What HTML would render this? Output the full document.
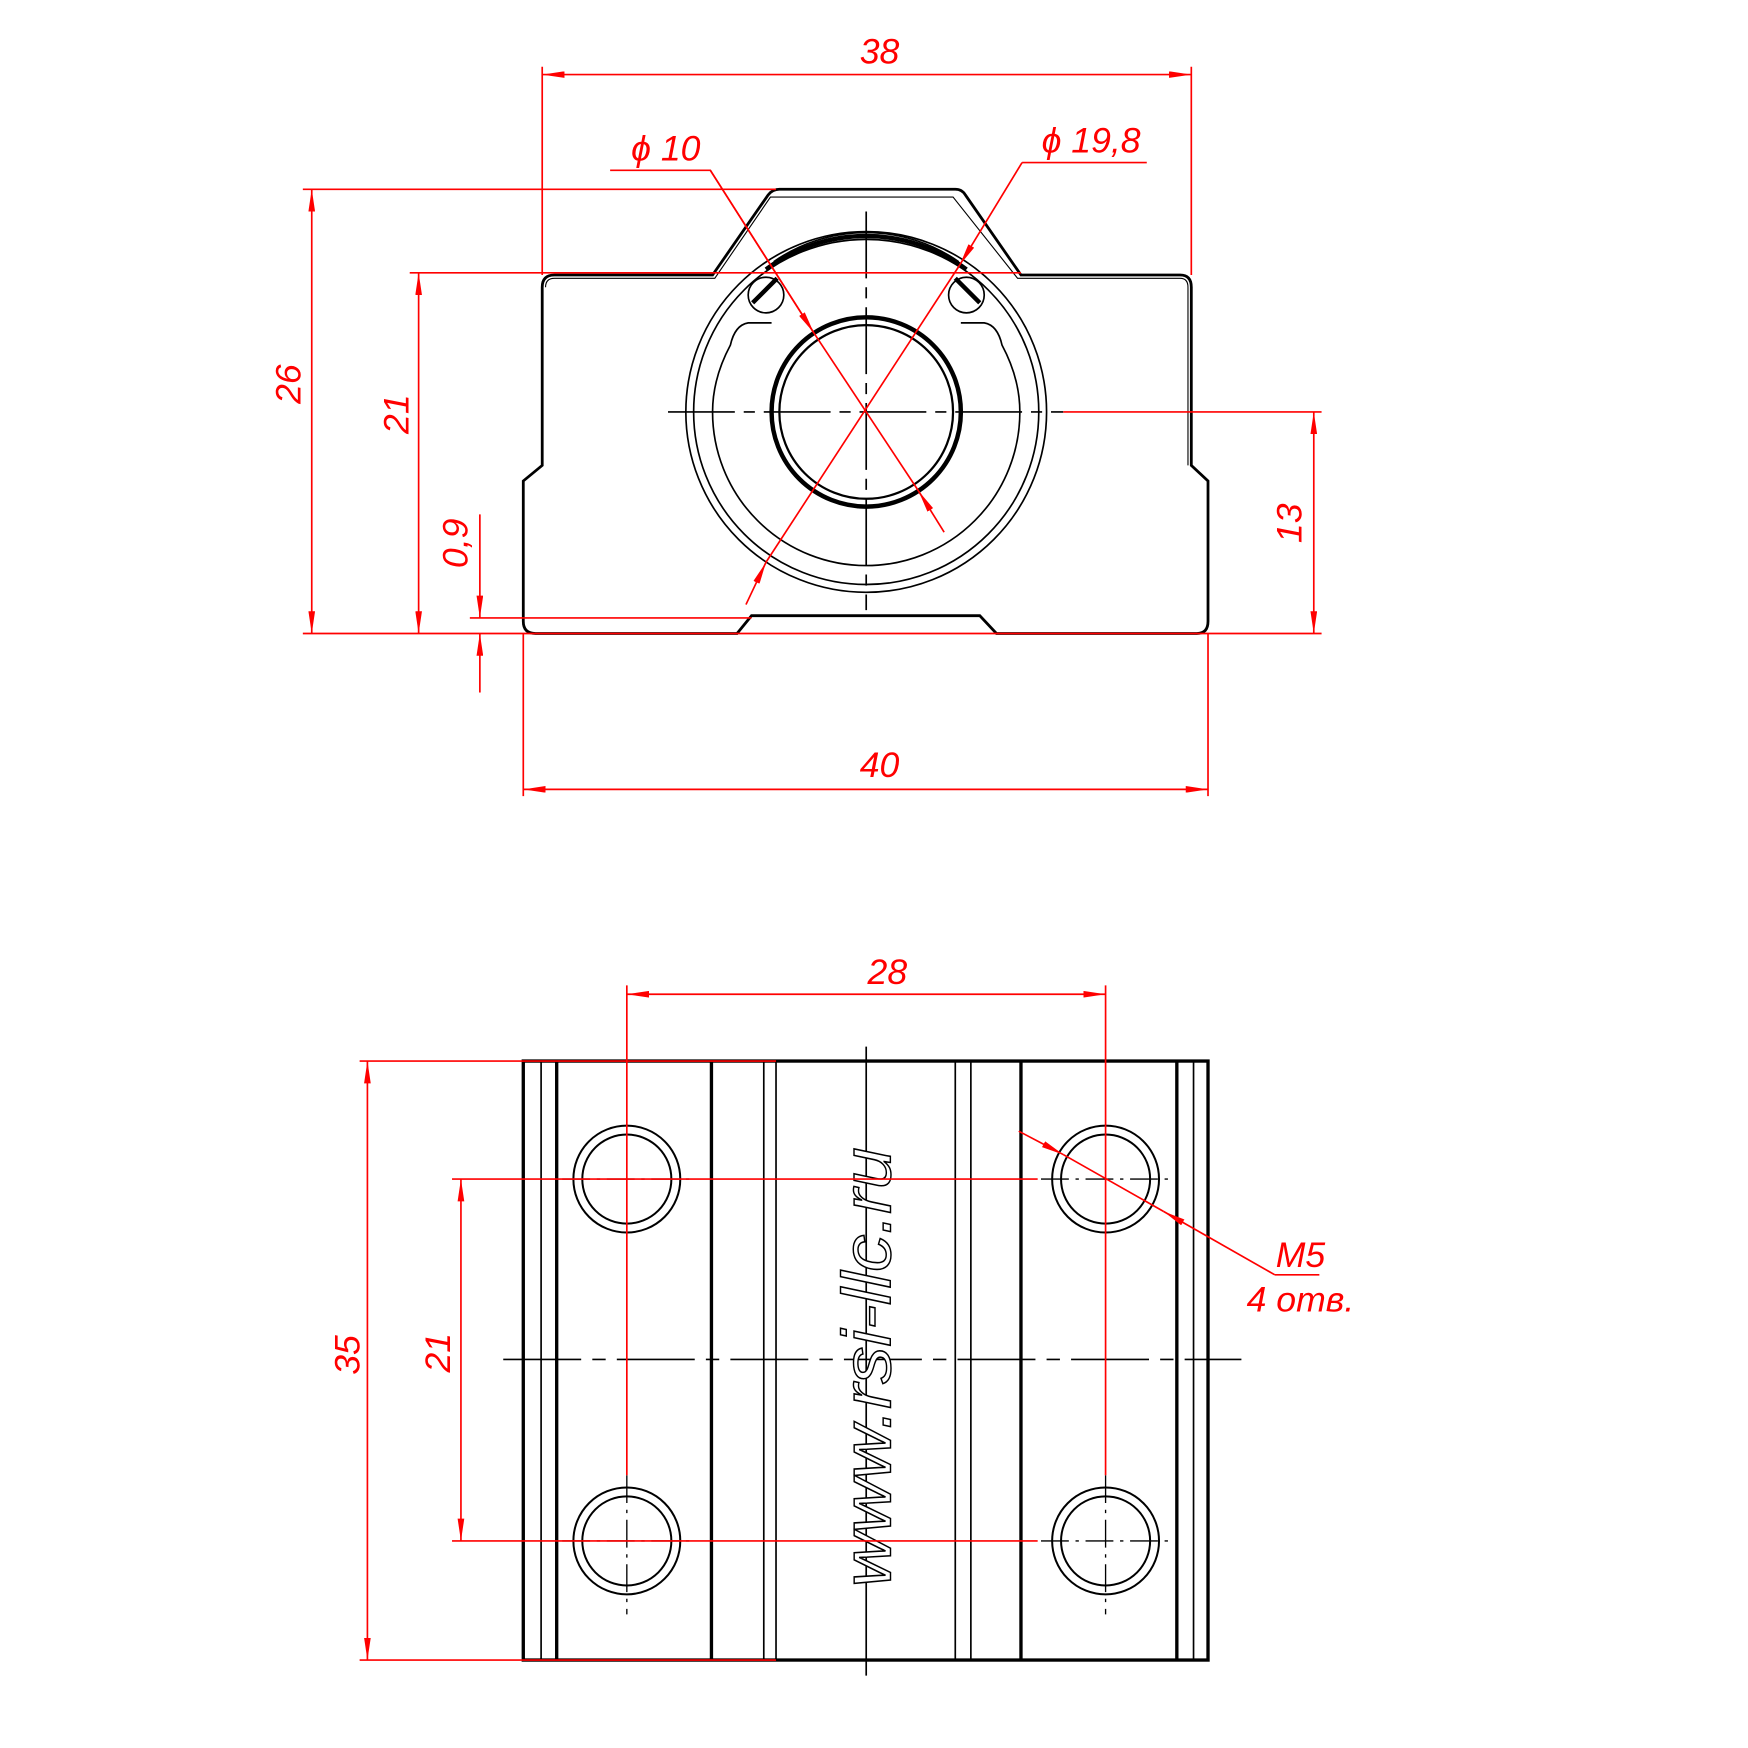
<!DOCTYPE html>
<html><head><meta charset="utf-8"><style>html,body{margin:0;padding:0;background:#fff}svg{display:block}</style></head>
<body>
<svg width="1748" height="1748" viewBox="0 0 1570 1570" xmlns="http://www.w3.org/2000/svg">
<defs>
<marker id="a" viewBox="0 0 20 6" refX="20" refY="3" markerWidth="20" markerHeight="6" markerUnits="userSpaceOnUse" orient="auto-start-reverse"><path d="M0,0 L20,3 L0,6 Z" fill="red"/></marker>
</defs>
<g fill="none" stroke="#000">
<!-- top view body -->
<path d="M487,258 Q487,247 498,247 L640,247 L690,175 Q694,170 700,170 L858,170 Q864,170 867,175 L917,247 L1060,247 Q1070,247 1070,258 L1070,418 L1085,432 L1085,558 Q1085,569 1075,569 L895,569 L880,553 L675,553 L662,569 L481,569 Q470,569 470,558 L470,432 L487,418 Z" stroke-width="2.5"/>
<path d="M490,258 Q490,250 498,250 L642,250 L692,177 L856,177 L914,250 L1060,250 Q1067,250 1067,258 L1067,418" stroke-width="1"/>
<circle cx="778" cy="370" r="162" stroke-width="1.5"/>
<circle cx="778" cy="370" r="155" stroke-width="1.5"/>
<path d="M693,290 L672,290 Q660,292 656,310 Q640,340 640,370 A138,138 0 0 0 916,370 Q916,340 900,310 Q896,292 884,290 L863,290" stroke-width="1.5"/>
<path d="M688,242 A150,150 0 0 1 868,242" stroke-width="4"/>
<path d="M695,235 A145,145 0 0 1 861,235" stroke-width="1.5"/>
<circle cx="688" cy="265" r="16" stroke-width="1.5"/><circle cx="868" cy="265" r="16" stroke-width="1.5"/>
<line x1="676" y1="272" x2="698" y2="250" stroke-width="4"/><line x1="880" y1="272" x2="858" y2="250" stroke-width="4"/>
<circle cx="778" cy="370" r="85" stroke-width="4"/>
<circle cx="778" cy="370" r="78" stroke-width="2"/>
<line x1="600" y1="370" x2="955" y2="370" stroke-width="1.5" stroke-dasharray="60,8,10,8"/>
<line x1="778" y1="190" x2="778" y2="548" stroke-width="1.5" stroke-dasharray="60,8,10,8"/>
<!-- bottom view -->
<rect x="470" y="953" width="615" height="538" stroke-width="3"/>
<g stroke-width="1.5">
<line x1="486" y1="953" x2="486" y2="1491"/><line x1="686" y1="953" x2="686" y2="1491"/><line x1="697" y1="953" x2="697" y2="1491"/>
<line x1="858" y1="953" x2="858" y2="1491"/><line x1="872" y1="953" x2="872" y2="1491"/><line x1="1072" y1="953" x2="1072" y2="1491"/>
</g>
<g stroke-width="3">
<line x1="500" y1="953" x2="500" y2="1491"/><line x1="639" y1="953" x2="639" y2="1491"/><line x1="917" y1="953" x2="917" y2="1491"/><line x1="1057" y1="953" x2="1057" y2="1491"/>
</g>
<g stroke-width="1.8">
<circle cx="563" cy="1059" r="48"/><circle cx="563" cy="1059" r="40"/>
<circle cx="993" cy="1059" r="48"/><circle cx="993" cy="1059" r="40"/>
<circle cx="563" cy="1384" r="48"/><circle cx="563" cy="1384" r="40"/>
<circle cx="993" cy="1384" r="48"/><circle cx="993" cy="1384" r="40"/>
</g>
<g stroke-width="1.2" stroke-dasharray="25,6,3,6">
<line x1="505" y1="1059" x2="621" y2="1059"/><line x1="935" y1="1059" x2="1051" y2="1059"/>
<line x1="505" y1="1384" x2="621" y2="1384"/><line x1="935" y1="1384" x2="1051" y2="1384"/>
<line x1="563" y1="1325" x2="563" y2="1450"/><line x1="993" y1="1325" x2="993" y2="1450"/>
</g>
<line x1="452" y1="1221" x2="1115" y2="1221" stroke-width="1.5" stroke-dasharray="70,10,12,10"/>
<line x1="778" y1="940" x2="778" y2="1505" stroke-width="1.5"/>
</g>
<text x="0" y="0" transform="translate(800,1228) rotate(-90)" text-anchor="middle" font-family="Liberation Sans Narrow, Liberation Sans, sans-serif" font-style="italic" font-size="62" fill="#fff" stroke="#000" stroke-width="1.3" textLength="395" lengthAdjust="spacingAndGlyphs">www.rsi-llc.ru</text>

<g stroke="red" stroke-width="1.5" fill="none">
<!-- 38 -->
<line x1="487" y1="60" x2="487" y2="247"/><line x1="1070" y1="60" x2="1070" y2="247"/>
<line x1="487" y1="67" x2="1070" y2="67" marker-start="url(#a)" marker-end="url(#a)"/>
<!-- 26 -->
<line x1="272" y1="170" x2="697" y2="170"/><line x1="272" y1="569" x2="1187" y2="569"/>
<line x1="280" y1="170" x2="280" y2="569" marker-start="url(#a)" marker-end="url(#a)"/>
<!-- 21 -->
<line x1="368" y1="245" x2="917" y2="245"/>
<line x1="376" y1="245" x2="376" y2="569" marker-start="url(#a)" marker-end="url(#a)"/>
<!-- 0,9 -->
<line x1="422" y1="555" x2="675" y2="555"/>
<line x1="431" y1="462" x2="431" y2="555" marker-end="url(#a)"/>
<line x1="431" y1="622" x2="431" y2="569" marker-end="url(#a)"/>
<!-- 13 -->
<line x1="955" y1="370" x2="1187" y2="370"/>
<line x1="1180" y1="370" x2="1180" y2="569" marker-start="url(#a)" marker-end="url(#a)"/>
<!-- 40 -->
<line x1="470" y1="569" x2="470" y2="715"/><line x1="1085" y1="569" x2="1085" y2="715"/>
<line x1="470" y1="709" x2="1085" y2="709" marker-start="url(#a)" marker-end="url(#a)"/>
<!-- phi10 -->
<polyline points="548,153 638,153 731,299"/>
<line x1="638" y1="153" x2="731" y2="299" marker-end="url(#a)"/>
<line x1="731" y1="299" x2="825" y2="441"/>
<line x1="848" y1="478" x2="825" y2="441" marker-end="url(#a)"/>
<!-- phi19.8 -->
<polyline points="1030,146 918,146"/>
<line x1="918" y1="146" x2="862" y2="238" marker-end="url(#a)"/>
<line x1="862" y1="238" x2="688" y2="505"/>
<line x1="670" y1="543" x2="688" y2="505" marker-end="url(#a)"/>
<!-- 28 -->
<line x1="563" y1="885" x2="563" y2="1325"/><line x1="993" y1="885" x2="993" y2="1325"/>
<line x1="563" y1="893" x2="993" y2="893" marker-start="url(#a)" marker-end="url(#a)"/>
<!-- 35 -->
<line x1="323" y1="953" x2="697" y2="953"/><line x1="323" y1="1491" x2="697" y2="1491"/>
<line x1="330" y1="953" x2="330" y2="1491" marker-start="url(#a)" marker-end="url(#a)"/>
<!-- 21 bottom -->
<line x1="406" y1="1059" x2="932" y2="1059"/><line x1="406" y1="1384" x2="932" y2="1384"/>
<line x1="414" y1="1059" x2="414" y2="1384" marker-start="url(#a)" marker-end="url(#a)"/>
<!-- M5 -->
<line x1="915" y1="1016" x2="955" y2="1037" marker-end="url(#a)"/>
<line x1="955" y1="1037" x2="1045" y2="1088"/>
<line x1="1145" y1="1145" x2="1045" y2="1088" marker-end="url(#a)"/>
<line x1="1145" y1="1145" x2="1185" y2="1145"/>
</g>
<g fill="red" font-family="Liberation Sans, sans-serif" font-style="italic" font-size="32">
<text x="790" y="57" text-anchor="middle">38</text>
<text x="790" y="698" text-anchor="middle">40</text>
<text x="797" y="884" text-anchor="middle">28</text>
<text x="598" y="144" text-anchor="middle">ϕ 10</text>
<text x="980" y="137" text-anchor="middle">ϕ 19,8</text>
<text transform="translate(270,345) rotate(-90)" text-anchor="middle">26</text>
<text transform="translate(367,372) rotate(-90)" text-anchor="middle">21</text>
<text transform="translate(420,488) rotate(-90)" text-anchor="middle">0,9</text>
<text transform="translate(1169,470) rotate(-90)" text-anchor="middle">13</text>
<text transform="translate(323,1217) rotate(-90)" text-anchor="middle">35</text>
<text transform="translate(404,1215) rotate(-90)" text-anchor="middle">21</text>
<text x="1168" y="1138" text-anchor="middle">M5</text>
<text x="1168" y="1178" text-anchor="middle">4 отв.</text>
</g>
</svg>
</body></html>
